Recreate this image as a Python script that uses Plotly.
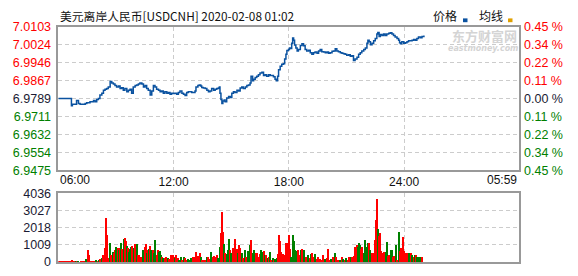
import plotly.graph_objects as go

# ---------------- data ----------------
title_text = "美元离岸人民币[USDCNH] 2020-02-08 01:02"

price_ticks = [7.0103, 7.0024, 6.9946, 6.9867, 6.9789, 6.9711, 6.9632, 6.9554, 6.9475]
pct_labels = ["0.45 %", "0.34 %", "0.22 %", "0.11 %", "0.00 %", "0.11 %", "0.22 %", "0.34 %", "0.45 %"]
label_side = ["up", "up", "up", "up", "flat", "down", "down", "down", "down"]

vol_ticks = [0, 1009, 2018, 3027, 4036]

time_ticks = [360, 720, 1080]
time_labels = ["12:00", "18:00", "24:00"]
time_edges = ["06:00", "05:59"]

# minutes after 06:00 and price
price_min = [0, 40, 41, 44, 55, 57, 63, 68, 84, 89, 99, 110, 115, 120, 125, 130, 136, 141, 146, 151,
             156, 162, 167, 172, 177, 182, 188, 193, 198, 203, 208, 214, 219, 224, 229, 234, 240, 245, 250, 255,
             261, 266, 271, 276, 281, 287, 292, 297, 302, 307, 313, 318, 323, 328, 333, 339, 344, 349, 354, 360,
             365, 370, 375, 380, 386, 391, 396, 401, 406, 417, 427, 430, 436, 440, 445, 448, 453, 459, 464, 469,
             474, 479, 485, 490, 495, 500, 503, 505, 508, 511, 514, 518, 521, 526, 532, 537, 542, 547, 552, 558,
             563, 568, 573, 578, 584, 589, 594, 599, 602, 607, 610, 615, 620, 625, 630, 636, 641, 646, 651, 657,
             662, 667, 672, 677, 681, 685, 688, 693, 698, 703, 707, 711, 714, 719, 722, 726, 729, 732, 735, 738,
             742, 746, 750, 756, 761, 766, 771, 776, 782, 787, 792, 797, 802, 808, 813, 818, 823, 829, 834, 839,
             844, 849, 855, 860, 865, 870, 875, 881, 886, 891, 896, 901, 907, 912, 917, 922, 927, 933, 938, 943,
             948, 954, 959, 964, 967, 971, 975, 980, 985, 990, 995, 998, 1002, 1006, 1011, 1016, 1021, 1026, 1032, 1037,
             1042, 1047, 1052, 1058, 1063, 1066, 1069, 1073, 1079, 1084, 1089, 1094, 1099, 1105, 1110, 1115, 1120, 1125, 1131, 1136,
             1142]
price_val = [6.9789, 6.9789, 6.9758, 6.9764, 6.9764, 6.9781, 6.9767, 6.9764, 6.9768, 6.9771, 6.9775, 6.9781, 6.9775, 6.9785, 6.9789, 6.9805, 6.9812, 6.9826, 6.9830, 6.9833,
             6.9840, 6.9864, 6.9857, 6.9853, 6.9846, 6.9840, 6.9844, 6.9833, 6.9836, 6.9826, 6.9833, 6.9819, 6.9826, 6.9830, 6.9812, 6.9840, 6.9846, 6.9849, 6.9853, 6.9857,
             6.9853, 6.9840, 6.9846, 6.9833, 6.9826, 6.9805, 6.9822, 6.9846, 6.9840, 6.9830, 6.9826, 6.9819, 6.9822, 6.9812, 6.9819, 6.9812, 6.9816, 6.9808, 6.9812, 6.9811,
             6.9812, 6.9808, 6.9816, 6.9822, 6.9812, 6.9808, 6.9803, 6.9816, 6.9819, 6.9816, 6.9822, 6.9840, 6.9846, 6.9849, 6.9844, 6.9838, 6.9835, 6.9833, 6.9826, 6.9819,
             6.9822, 6.9833, 6.9826, 6.9830, 6.9833, 6.9835, 6.9840, 6.9812, 6.9785, 6.9767, 6.9778, 6.9783, 6.9775, 6.9792, 6.9798, 6.9794, 6.9812, 6.9819, 6.9816, 6.9826,
             6.9822, 6.9835, 6.9840, 6.9833, 6.9840, 6.9846, 6.9849, 6.9857, 6.9887, 6.9867, 6.9874, 6.9881, 6.9887, 6.9894, 6.9901, 6.9904, 6.9890, 6.9894, 6.9887, 6.9894,
             6.9890, 6.9890, 6.9885, 6.9874, 6.9867, 6.9887, 6.9915, 6.9931, 6.9940, 6.9942, 6.9963, 6.9983, 7.0000, 7.0004, 7.0011, 7.0008, 7.0031, 7.0055, 7.0045, 7.0024,
             7.0011, 6.9997, 7.0004, 7.0022, 7.0029, 7.0020, 7.0004, 6.9997, 7.0001, 6.9990, 6.9983, 6.9990, 6.9993, 6.9988, 6.9997, 7.0004, 6.9994, 6.9993, 6.9990, 6.9993,
             6.9988, 6.9990, 6.9996, 6.9997, 7.0007, 6.9997, 6.9994, 6.9990, 6.9988, 6.9986, 6.9983, 6.9979, 6.9981, 6.9974, 6.9977, 6.9956, 6.9963, 6.9970, 6.9983, 6.9990,
             6.9997, 7.0004, 7.0011, 7.0031, 7.0045, 7.0038, 7.0025, 7.0031, 7.0042, 7.0052, 7.0072, 7.0079, 7.0061, 7.0070, 7.0066, 7.0072, 7.0066, 7.0072, 7.0075, 7.0078,
             7.0072, 7.0066, 7.0059, 7.0052, 7.0045, 7.0034, 7.0029, 7.0038, 7.0031, 7.0034, 7.0038, 7.0042, 7.0042, 7.0045, 7.0048, 7.0045, 7.0052, 7.0059, 7.0056, 7.0061,
             7.0066]

vol_min = [5, 9, 13, 17, 21, 25, 29, 33, 37, 43, 47, 51, 56, 60, 64, 72, 76, 80, 88, 93,
           96, 100, 104, 108, 112, 119, 124, 129, 132, 137, 140, 145, 147, 150, 153, 155, 158, 163, 166, 169,
           172, 176, 179, 182, 187, 190, 193, 196, 199, 202, 205, 209, 213, 216, 220, 223, 226, 229, 233, 237,
           240, 243, 246, 249, 254, 260, 265, 268, 272, 275, 278, 282, 286, 289, 292, 296, 299, 302, 305, 308,
           312, 315, 318, 321, 324, 327, 330, 334, 338, 341, 345, 348, 353, 356, 360, 364, 367, 370, 374, 379,
           385, 388, 393, 396, 401, 406, 412, 417, 422, 426, 430, 435, 438, 443, 447, 451, 455, 460, 466, 470,
           474, 479, 485, 489, 493, 497, 501, 506, 510, 513, 516, 519, 523, 527, 531, 535, 538, 542, 546, 550,
           554, 558, 562, 566, 570, 574, 578, 583, 587, 591, 595, 599, 603, 607, 610, 614, 618, 622, 626, 630,
           635, 639, 643, 647, 651, 655, 660, 663, 667, 671, 675, 679, 684, 688, 691, 694, 698, 702, 707, 711,
           714, 717, 720, 722, 725, 729, 735, 738, 741, 745, 749, 753, 758, 762, 766, 770, 776, 782, 787, 791,
           795, 799, 803, 808, 813, 818, 823, 828, 834, 839, 844, 849, 854, 860, 865, 870, 875, 881, 887, 892,
           896, 901, 907, 910, 914, 918, 922, 925, 929, 934, 938, 942, 945, 948, 951, 956, 960, 964, 968, 972,
           976, 981, 985, 989, 992, 995, 997, 1000, 1003, 1007, 1010, 1013, 1016, 1020, 1024, 1028, 1032, 1035, 1039, 1043,
           1047, 1051, 1056, 1060, 1064, 1067, 1070, 1073, 1077, 1082, 1086, 1090, 1094, 1098, 1102, 1107, 1111, 1115, 1119, 1123,
           1128, 1132, 1138]
vol_val = [30, 30, 30, 30, 30, 30, 30, 30, 30, 55, 30, 30, 30, 30, 30, 30, 30, 30, 148, 703,
           389, 30, 30, 30, 30, 55, 30, 55, 148, 204, 389, 296, 796, 2553, 1591, 204, 148, 1092, 389, 296,
           574, 481, 666, 851, 796, 666, 814, 1073, 759, 574, 1314, 1406, 1221, 944, 796, 574, 759, 851, 944, 796,
           1036, 574, 1036, 389, 389, 296, 666, 666, 851, 1036, 481, 666, 759, 944, 666, 666, 481, 1258, 389, 389,
           666, 574, 611, 389, 296, 204, 204, 204, 296, 111, 204, 148, 389, 241, 389, 296, 204, 389, 204, 111,
           296, 111, 296, 204, 55, 166, 111, 204, 296, 241, 574, 296, 352, 481, 296, 111, 111, 111, 296, 241,
           166, 574, 296, 352, 296, 389, 204, 851, 1684, 2923, 1721, 1036, 481, 426, 666, 1351, 666, 481, 796, 722,
           1314, 759, 481, 981, 796, 481, 204, 666, 296, 296, 611, 981, 1258, 426, 481, 666, 481, 481, 296, 426,
           703, 574, 611, 389, 389, 204, 241, 574, 111, 204, 55, 166, 204, 426, 1536, 1221, 537, 426, 389, 481,
           1092, 1092, 666, 1536, 722, 296, 1591, 1221, 666, 611, 666, 389, 666, 759, 611, 703, 296, 389, 204, 426,
           481, 296, 426, 166, 241, 166, 111, 389, 166, 204, 759, 111, 166, 296, 481, 296, 111, 55, 259, 166,
           111, 204, 111, 296, 296, 296, 296, 333, 851, 981, 851, 1092, 981, 759, 851, 481, 1258, 851, 1092, 1092,
           666, 518, 481, 481, 1276, 2460, 3681, 1905, 1498, 1684, 611, 481, 389, 574, 574, 1166, 333, 389, 666, 666,
           296, 352, 981, 111, 481, 1721, 611, 796, 1462, 611, 481, 333, 481, 481, 518, 389, 296, 389, 389, 241,
           296, 296, 241]
vol_dir = list("rrrrrrrrrrrrgrgrrrgr"
               "rrrrrgrgrgrrrrrrrgrr"
               "grrgrgrgrrgrrgrgggrg"
               "rrgrrrggrrgrgrgrgggr"
               "rgggrggrrrgrrrrrgrrg"
               "grgrrgggrrrrrrgrrrgr"
               "rgrrrrggrrrgrgggrgrr"
               "rrgrrgrgrrggrrggrrrr"
               "ggrgrgrgrgrggrrrrrrr"
               "rrrrrgggggrrgrrgrgrg"
               "rrgrrrrrgrrrgrgrrgrg"
               "rgrrgrrrrrgggrrggggr"
               "grrrrrrgrrrrrrggrrgg"
               "rrgrggrrrrrrrgrgrgrg"
               "ggr")

# ---------------- styling ----------------
C_UP, C_DOWN, C_FLAT = "#ff0000", "#008000", "#1a1a33"
C_LINE = "#0a52a0"
C_AVG = "#e0a000"
GRID = "#cccccc"
BORDER = "#999999"
NUM_FONT = "Liberation Sans"
CJK_FONT = "Noto Sans CJK SC"

side_color = {"up": C_UP, "down": C_DOWN, "flat": C_FLAT}
left_text = [f"<span style='color:{side_color[s]}'>{v:.4f}</span>" for v, s in zip(price_ticks, label_side)]
right_text = [f"<span style='color:{side_color[s]}'>{t}</span>" for t, s in zip(pct_labels, label_side)]
bar_colors = [C_UP if d == "r" else C_DOWN for d in vol_dir]

W, H = 578, 276
x0, x1 = 58.3, 519.0
xdom = [x0 / W, x1 / W]
pdom = [1 - 172 / H, 1 - 21 / H]
vdom = [1 - 268.5 / H, 1 - 196.3 / H]

fig = go.Figure()
fig.add_trace(go.Scatter(x=price_min, y=price_val, mode="lines", line=dict(color=C_LINE, width=1.5, shape="hv"),
                         xaxis="x", yaxis="y", hoverinfo="skip", showlegend=False))
fig.add_trace(go.Scatter(x=price_min, y=price_val, mode="lines", line=dict(color=C_LINE, width=0), opacity=0,
                         xaxis="x", yaxis="y3", hoverinfo="skip", showlegend=False))
fig.add_trace(go.Bar(x=vol_min, y=vol_val, marker=dict(color=bar_colors, line=dict(width=0)), width=3.8,
                     xaxis="x2", yaxis="y2", hoverinfo="skip", showlegend=False))

axis_common = dict(showline=True, linecolor=BORDER, linewidth=1.5, mirror=True,
                   gridcolor=GRID, griddash="4px,3px", gridwidth=1, zeroline=False, fixedrange=True)

fig.update_layout(
    width=W, height=H, margin=dict(l=0, r=0, t=0, b=0),
    paper_bgcolor="white", plot_bgcolor="white", bargap=0,
    xaxis=dict(domain=xdom, range=[0, 1439], anchor="y", tickvals=time_ticks, ticktext=time_labels,
               tickfont=dict(family=NUM_FONT, size=12, color="#111111"), ticks="", **axis_common),
    yaxis=dict(domain=pdom, range=[price_ticks[-1], price_ticks[0]], anchor="x", tickvals=price_ticks,
               ticktext=left_text, tickfont=dict(family=NUM_FONT, size=12.5), ticks="",
               ticklabelstandoff=3, **axis_common),
    yaxis3=dict(domain=pdom, range=[price_ticks[-1], price_ticks[0]], overlaying="y", side="right", anchor="x",
                tickvals=price_ticks, ticktext=right_text, tickfont=dict(family=NUM_FONT, size=12.5),
                showgrid=False, showline=False, zeroline=False, ticks="", ticklabelstandoff=4, fixedrange=True),
    xaxis2=dict(domain=xdom, range=[0, 1439], anchor="y2", tickvals=time_ticks, showticklabels=False,
                ticks="", **axis_common),
    yaxis2=dict(domain=vdom, range=[0, vol_ticks[-1]], anchor="x2", tickvals=vol_ticks,
                ticktext=[str(v) for v in vol_ticks], tickfont=dict(family=NUM_FONT, size=12.5, color=C_FLAT),
                ticks="", ticklabelstandoff=3, **axis_common),
)

ann = []
ann.append(dict(text=title_text, x=x0 / W, y=1 - 9 / H, xref="paper", yref="paper", xanchor="left", yanchor="middle",
                showarrow=False, font=dict(family=CJK_FONT, size=11.8, color="#111111")))
ann.append(dict(text=time_edges[0], x=x0 / W, y=1 - 182 / H, xref="paper", yref="paper", xanchor="left",
                yanchor="middle", showarrow=False, font=dict(family=NUM_FONT, size=12, color="#111111")))
ann.append(dict(text=time_edges[1], x=x1 / W, y=1 - 182 / H, xref="paper", yref="paper", xanchor="right",
                yanchor="middle", showarrow=False, font=dict(family=NUM_FONT, size=12, color="#111111")))
ann.append(dict(text="价格", x=431 / W, y=1 - 9 / H, xref="paper", yref="paper", xanchor="left", yanchor="middle",
                showarrow=False, font=dict(family=CJK_FONT, size=12, color="#111111")))
ann.append(dict(text="均线", x=477 / W, y=1 - 9 / H, xref="paper", yref="paper", xanchor="left", yanchor="middle",
                showarrow=False, font=dict(family=CJK_FONT, size=12, color="#111111")))
# watermark
ann.append(dict(text="<b>东方财富网</b>", x=518 / W, y=1 - 30 / H, xref="paper", yref="paper", xanchor="right",
                yanchor="middle", showarrow=False, borderpad=0,
                font=dict(family=CJK_FONT, size=13, color="#d4d4d4")))
ann.append(dict(text="<b><i>eastmoney.com</i></b>", x=519 / W, y=1 - 43.5 / H, xref="paper", yref="paper",
                xanchor="right", yanchor="middle", showarrow=False, borderpad=0,
                font=dict(family="DejaVu Sans", size=8, color="#d4d4d4")))
fig.update_layout(annotations=ann)

shapes = [
    dict(type="rect", xref="paper", yref="paper", x0=463 / W, x1=467.5 / W, y0=1 - 16 / H, y1=1 - 12 / H,
         fillcolor=C_LINE, line=dict(width=0)),
    dict(type="rect", xref="paper", yref="paper", x0=508 / W, x1=512.5 / W, y0=1 - 16 / H, y1=1 - 12 / H,
         fillcolor=C_AVG, line=dict(width=0)),
]
fig.update_layout(shapes=shapes)

fig.write_html("out.html")
